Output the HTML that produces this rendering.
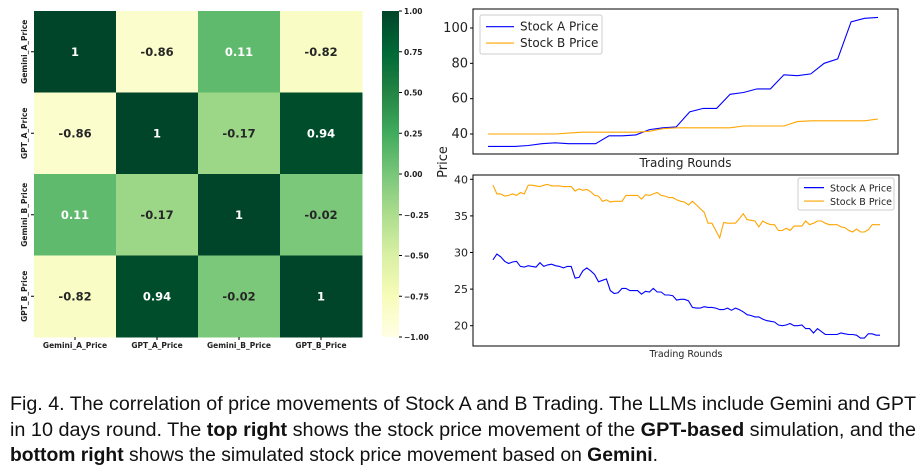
<!DOCTYPE html>
<html><head><meta charset="utf-8"><style>
html,body{margin:0;padding:0;background:#fff;}
svg{display:block;font-family:"DejaVu Sans","Liberation Sans",sans-serif;}
</style></head><body>
<svg id="fig" width="924" height="475" viewBox="0 0 924 475">
<g id="heat"></g>
<g id="cbar"></g>
<g id="top"></g>
<g id="bot"></g>
<text x="447" y="162" font-size="13" fill="#222" transform="rotate(-90 447 162)" text-anchor="middle">Price</text>
<g font-family="'Liberation Sans',sans-serif" font-size="19" fill="#111">
<text x="10" y="410" textLength="906" lengthAdjust="spacingAndGlyphs">Fig. 4.  The correlation of price movements of Stock A and B Trading. The LLMs include Gemini and GPT</text>
<text x="10" y="436" textLength="906" lengthAdjust="spacingAndGlyphs">in 10 days round. The <tspan font-weight="bold">top right</tspan> shows the stock price movement of the <tspan font-weight="bold">GPT-based</tspan> simulation, and the</text>
<text x="10" y="461" textLength="648" lengthAdjust="spacingAndGlyphs"><tspan font-weight="bold">bottom right</tspan> shows the simulated stock price movement based on <tspan font-weight="bold">Gemini</tspan>.</text>
</g>
</svg>
<script>
const NS="http://www.w3.org/2000/svg";
const heatLabels=["Gemini_A_Price","GPT_A_Price","Gemini_B_Price","GPT_B_Price"];
const heatRow0=[1,-0.86,0.11,-0.82];
const heatRow1=[-0.86,1,-0.17,0.94];
const heatRow2=[0.11,-0.17,1,-0.02];
const heatRow3=[-0.82,0.94,-0.02,1];
const cbarTicks=[1.00,0.75,0.50,0.25,0.00,-0.25,-0.50,-0.75,-1.00];
const topA=[33,33,33,33.5,34.5,35,34.5,34.5,34.5,39,39,39.5,42.5,43.5,44,52.5,54.5,54.5,62.5,63.5,65.5,65.5,73.5,73,74,80,82.5,103.5,105.5,106];
const topB=[40,40,40,40,40,40,40.5,41,41,41,41,41,41.5,43,43.5,43.5,43.5,43.5,43.5,44.5,44.5,44.5,44.5,47,47.5,47.5,47.5,47.5,47.5,48.5];
const topTicks=[40,60,80,100];
const botA=[29,29.8,29.4,28.8,28.5,28.7,28.8,28.1,28,28.2,28.1,28,28.6,28.1,28.3,28.4,28.2,28.1,27.9,28.1,28.1,26.5,26.6,27.5,27.9,27.5,27,26,26.2,26.4,24.8,24.4,24.5,25.1,25.1,24.8,24.8,24.8,24.3,24.7,24.6,25.1,24.6,24.6,24.2,24.2,24.1,23.5,23.6,23.6,23.4,22.5,22.4,22.4,22.6,22.5,22.5,22.4,22.2,22.2,22.4,22.1,22.4,22.2,21.9,21.5,21.4,21.2,21.2,20.9,20.7,20.6,20.5,20.1,20,20.1,20.3,20,20,20.1,19.6,19.6,19,19.6,19.2,18.8,18.8,18.8,18.8,19,18.9,18.8,18.8,18.7,18.3,18.3,18.9,18.9,18.7,18.7];
const botB=[39.2,38,38,37.7,37.8,38,37.8,38.2,38,39.2,39.2,39.1,39,39.2,39.3,39.1,39.1,39.1,39,39,39,38.4,38.7,38.5,38.6,38.3,37.8,37.7,37,37.2,36.9,37,37,37,37.8,37.8,37.8,37.8,37.3,37.9,37.8,38,38.2,37.8,37.7,37.5,37.5,37.2,37,36.9,36.5,37,36.5,36,35.5,34,34,33,32,34.1,34,34,34,34.6,35.3,34.5,34.4,34.3,33.5,34.3,34,33.8,33.8,33,33,33.3,33,33.6,33.6,33.6,34.3,33.8,34,34.3,34.3,34,33.8,33.8,33.8,33.5,33.4,33,32.8,33.2,32.8,32.8,33.1,33.8,33.8,33.8];
const botTicks=[20,25,30,35,40];

function el(p,tag,attrs,txt){const e=document.createElementNS(NS,tag);for(const k in attrs)e.setAttribute(k,attrs[k]);if(txt!==undefined)e.textContent=txt;p.appendChild(e);return e;}
const ylgn=["#ffffe5","#f7fcb9","#d9f0a3","#addd8e","#78c679","#41ab5d","#238443","#006837","#004529"];
function hex(h){return [1,3,5].map(i=>parseInt(h.substr(i,2),16));}
function cmap(v){let t=(v+1)/2*(ylgn.length-1);let i=Math.min(Math.floor(t),ylgn.length-2);let f=t-i;const a=hex(ylgn[i]),b=hex(ylgn[i+1]);return "rgb("+a.map((x,k)=>Math.round(x+(b[k]-x)*f)).join(",")+")";}

const heat=document.getElementById('heat');
const HX0=34,HY0=11,CW=82,CH=81.5;
const rows=[heatRow0,heatRow1,heatRow2,heatRow3];
rows.forEach((row,r)=>{row.forEach((v,c)=>{
  const cell=el(heat,'rect',{x:HX0+c*CW,y:HY0+r*CH,width:CW+0.5,height:CH+0.5,fill:cmap(v)});
  
  
  const t=el(heat,'text',{x:HX0+c*CW+CW/2,y:HY0+r*CH+CH/2+4,'text-anchor':'middle','font-size':11.5,'font-weight':'bold',fill:v>0?'#fff':'#262626'},String(v));
  
  
});});
heatLabels.forEach((l,i)=>{
  const cx=HX0+i*CW+CW/2;
  el(heat,'line',{x1:cx,x2:cx,y1:HY0+4*CH,y2:HY0+4*CH+3,stroke:'#000'});
  const t=el(heat,'text',{x:cx,y:348,'text-anchor':'middle','font-size':7.5,'font-weight':'bold',fill:'#222'},l);
  
  
  const cy=HY0+i*CH+CH/2;
  el(heat,'line',{x1:HX0-3,x2:HX0,y1:cy,y2:cy,stroke:'#000'});
  const ty=el(heat,'text',{x:27,y:cy,'text-anchor':'middle','font-size':7.5,'font-weight':'bold',fill:'#222',transform:`rotate(-90 27 ${cy})`},l);
  
  
});
const cb=document.getElementById('cbar');
const defs=el(cb,'defs',{});
const g=el(defs,'linearGradient',{id:'yg',x1:0,y1:1,x2:0,y2:0});
ylgn.forEach((c,i)=>el(g,'stop',{offset:i/(ylgn.length-1),'stop-color':c}));
el(cb,'rect',{x:382,y:11,width:17,height:326,fill:'url(#yg)'});
cbarTicks.forEach(v=>{
  const y=11+(1-v)/2*326;
  el(cb,'line',{x1:399,x2:402,y1:y,y2:y,stroke:'#000'});
  const t=el(cb,'text',{x:404,y:y+3,'font-size':7.5,'font-weight':'bold',fill:'#222'},(v<0?'\u2212':'')+Math.abs(v).toFixed(2));
  
  
});

function lineChart(gid,A,B,ticks,box,yr,xr,legend){
  const p=document.getElementById(gid);
  const sx=i=>xr[0]+(xr[1]-xr[0])*i/(A.length-1);
  const sy=v=>box.y1-(v-yr[0])/(yr[1]-yr[0])*(box.y1-box.y0);
  const ax=el(p,'rect',{x:box.x0,y:box.y0,width:box.x1-box.x0,height:box.y1-box.y0,fill:'none',stroke:'#000','stroke-width':1});
  
  
  ticks.forEach(v=>{const y=sy(v);el(p,'line',{x1:box.x0-3,x2:box.x0,y1:y,y2:y,stroke:'#000'});
    const t=el(p,'text',{x:box.x0-5,y:y+4,'text-anchor':'end','font-size':legend.tfs,fill:'#222'},String(v));
    
    });
  [[A,'#0000ff','stock-a-line'],[B,'#ffa500','stock-b-line']].forEach(([d,c,n])=>{
    const pl=el(p,'polyline',{points:d.map((v,i)=>sx(i).toFixed(1)+','+sy(v).toFixed(1)).join(' '),fill:'none',stroke:c,'stroke-width':1.1});
    
    
  });
  const xt=el(p,'text',{x:(box.x0+box.x1)/2,y:box.y1+legend.xtOff,'text-anchor':'middle','font-size':legend.fs,fill:'#222'},'Trading Rounds');
  
  
  const lg=el(p,'g',{});
  
  
  el(lg,'rect',{x:legend.x,y:legend.y,width:legend.w,height:legend.h,fill:'#fff',stroke:'#ccc',rx:2});
  [['Stock A Price','#0000ff'],['Stock B Price','#ffa500']].forEach(([l,c],i)=>{
    const y=legend.y+legend.h*(0.3+0.42*i);
    el(lg,'line',{x1:legend.x+6,x2:legend.x+6+legend.ll,y1:y,y2:y,stroke:c,'stroke-width':1.2});
    const t=el(lg,'text',{x:legend.x+12+legend.ll,y:y+4,'font-size':legend.fs,fill:'#222'},l);
    
    
  });
}
lineChart('top',topA,topB,topTicks,{x0:473,x1:898,y0:9,y1:154},[40-(154-134)/(106/60),100+(28-9)/(106/60)],[488,878],
  {x:480,y:15,w:122,h:39,ll:28,fs:12,tfs:13,xtOff:13});
lineChart('bot',botA,botB,botTicks,{x0:473,x1:899,y0:175,y1:346},[20-(346-325.7)/7.32,40+(179.3-175)/7.32],[493,880],
  {x:798,y:178,w:96,h:32,ll:20,fs:9.5,tfs:11,xtOff:11});
</script>
</body></html>
